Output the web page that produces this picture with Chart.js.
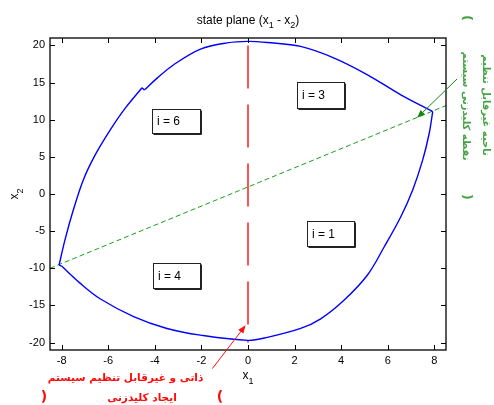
<!DOCTYPE html>
<html><head><meta charset="utf-8">
<script src="https://cdn.jsdelivr.net/npm/chart.js@4"></script>
<style>html,body{margin:0;padding:0;background:#fff;}canvas{display:block;}</style>
</head><body>
<canvas id="c" width="494" height="405"></canvas>
<script>
// ---- data ----
// trajectory, split at its corners so the smooth arcs keep sharp vertices
const upperLeftX  = [-8.11,-7.86,-7.5,-7.07,-6.56,-5.92,-5.27,-4.55];
const upperLeftY  = [-9.57,-6.2,-2.16,1.9,5.26,8.6,11.56,14.3];
const upperRightX = [-4.45,-3.9,-3.19,-2.04,-0.9,0,0.83,2.26,3.7,5.13,6.56,7.93];
const upperRightY = [14.0,15.6,17.4,19.5,20.35,20.55,20.4,19.87,18.3,16.05,13.35,11.1];
const lowerX = [7.93,7.78,7.5,7.07,6.56,5.85,5.13,4.12,3.12,2.26,0.83,0,-2.04,-3.48,-4.91,-6.35,-7.21,-8.0];
const lowerY = [11.1,8.18,4.59,0.54,-3.06,-7.1,-10.9,-14.3,-16.8,-18.1,-19.3,-19.7,-19.0,-18.1,-16.5,-14.1,-12.0,-9.7];
const joinX = [-4.55,-4.45,null,-8.0,-8.11];
const joinY = [14.3,14.0,null,-9.7,-9.57];
const guideX = [-8.5, 8.5];
const guideY = [-10.0, 11.9];
const switchX = [0, 0];
const switchY = [20, -20];
const xTicks = [-8,-6,-4,-2,0,2,4,6,8];
const yTicks = [-20,-15,-10,-5,0,5,10,15,20];
const regionLabels = ['i = 6','i = 3','i = 1','i = 4'];
const titleParts = [['state plane (x',0],['1',1],[' - x',0],['2',1],[')',0]];
const xLabelParts = [['x',0],['1',1]];
const yLabelParts = [['x',0],['2',1]];
const redLine1 = 'ذاتی و غیرقابل تنظیم سیستم';
const redLine2 = 'ایجاد کلیدزنی';
const greenLine1 = 'ناحیه غیرقابل تنظیم';
const greenLine2 = 'نقطه کلیدزنی سیستم';

// ---- annotation placement (data coordinates) ----
const boxCorners = [[-4.11,11.44,-2.06,8.17],[2.12,15.04,4.13,11.62],[2.55,-3.59,4.55,-6.96],[-4.09,-9.33,-2.06,-12.61]];
const greenArrow = {from:[8.98,15.5], to:[7.26,10.25]};
const redArrow = {from:[-1.53,-23.5], to:[-0.1,-17.67]};

const FONT = '"Liberation Sans", Arial, sans-serif';
const AFONT = '"DejaVu Sans", sans-serif';

function pts(xs, ys){ return xs.map((x,i)=>({x:x, y:ys[i]})); }

function drawParts(ctx, parts, cx, baseY, size, subSize, subDy){
  let w = 0;
  parts.forEach(p=>{ ctx.font = (p[1]?subSize:size)+'px '+FONT; w += ctx.measureText(p[0]).width; });
  let x = cx - w/2;
  ctx.textAlign = 'left'; ctx.textBaseline = 'alphabetic';
  parts.forEach(p=>{
    ctx.font = (p[1]?subSize:size)+'px '+FONT;
    ctx.fillText(p[0], x, baseY + (p[1]?subDy:0));
    x += ctx.measureText(p[0]).width;
  });
}

function arrow(ctx, x1,y1,x2,y2,color){
  ctx.strokeStyle = color; ctx.fillStyle = color; ctx.lineWidth = 1; ctx.setLineDash([]);
  const ang = Math.atan2(y2-y1, x2-x1), L = 8, W = 3.2;
  ctx.beginPath(); ctx.moveTo(x1,y1); ctx.lineTo(x2 - Math.cos(ang)*L*0.8, y2 - Math.sin(ang)*L*0.8); ctx.stroke();
  ctx.beginPath();
  ctx.moveTo(x2,y2);
  ctx.lineTo(x2 - L*Math.cos(ang) + W*Math.sin(ang), y2 - L*Math.sin(ang) - W*Math.cos(ang));
  ctx.lineTo(x2 - L*Math.cos(ang) - W*Math.sin(ang), y2 - L*Math.sin(ang) + W*Math.cos(ang));
  ctx.closePath(); ctx.fill();
}

const framePlugin = {
  id:'frame',
  afterDraw(chart){
    const {ctx, chartArea:a, scales:{x, y}} = chart;
    ctx.save();
    ctx.strokeStyle = '#000'; ctx.lineWidth = 1.3; ctx.setLineDash([]);
    ctx.strokeRect(a.left, a.top, a.right - a.left, a.bottom - a.top);
    ctx.lineWidth = 1;
    ctx.beginPath();
    xTicks.forEach(v=>{
      const px = Math.round(x.getPixelForValue(v)) + 0.5;
      ctx.moveTo(px, a.bottom); ctx.lineTo(px, a.bottom - 5);
      ctx.moveTo(px, a.top); ctx.lineTo(px, a.top + 5);
    });
    yTicks.forEach(v=>{
      const py = Math.round(y.getPixelForValue(v)) + 0.5;
      ctx.moveTo(a.left, py); ctx.lineTo(a.left + 5, py);
      ctx.moveTo(a.right, py); ctx.lineTo(a.right - 5, py);
    });
    ctx.stroke();

    ctx.fillStyle = '#000';
    drawParts(ctx, titleParts, (a.left + a.right)/2, 24, 12, 9, 4);
    drawParts(ctx, xLabelParts, (a.left + a.right)/2, 378.5, 12, 9, 5);
    ctx.save();
    ctx.translate(17.5, (a.top + a.bottom)/2);
    ctx.rotate(-Math.PI/2);
    drawParts(ctx, yLabelParts, 0, 0, 12, 9, 5);
    ctx.restore();

    boxCorners.forEach((b,i)=>{
      const x1 = Math.round(x.getPixelForValue(b[0]))+0.5, y1 = Math.round(y.getPixelForValue(b[1]))+0.5;
      const x2 = Math.round(x.getPixelForValue(b[2]))+0.5, y2 = Math.round(y.getPixelForValue(b[3]))+0.5;
      ctx.fillStyle = '#fff';
      ctx.fillRect(x1, y1, x2-x1, y2-y1);
      ctx.strokeStyle = '#222'; ctx.lineWidth = 1;
      ctx.strokeRect(x1, y1, x2-x1, y2-y1);
      ctx.beginPath(); ctx.moveTo(x2+1, y1+1); ctx.lineTo(x2+1, y2+1); ctx.lineTo(x1+1, y2+1); ctx.stroke();
      ctx.fillStyle = '#000';
      ctx.font = '12px '+FONT; ctx.textAlign = 'left'; ctx.textBaseline = 'middle';
      ctx.fillText(regionLabels[i], x1 + 4.5, (y1+y2)/2 + 0.5);
    });

    arrow(ctx, x.getPixelForValue(greenArrow.from[0]), y.getPixelForValue(greenArrow.from[1]),
               x.getPixelForValue(greenArrow.to[0]), y.getPixelForValue(greenArrow.to[1]), '#108a10');
    arrow(ctx, x.getPixelForValue(redArrow.from[0]), y.getPixelForValue(redArrow.from[1]),
               x.getPixelForValue(redArrow.to[0]), y.getPixelForValue(redArrow.to[1]), '#ff1010');

    ctx.fillStyle = '#ff0a0a';
    ctx.textBaseline = 'middle'; ctx.textAlign = 'center';
    ctx.direction = 'rtl';
    ctx.font = 'bold 12px '+AFONT;
    let m = ctx.measureText(redLine1).width;
    let fs = Math.max(9, Math.min(15, 12*155/m));
    ctx.font = 'bold '+fs.toFixed(1)+'px '+AFONT;
    ctx.fillText(redLine1, 125.5, 378);
    ctx.fillText(redLine2, 142, 398);
    ctx.direction = 'ltr';
    ctx.font = 'bold 14px '+AFONT;
    ctx.fillText(')', 44, 397);
    ctx.fillText('(', 220, 397);

    ctx.fillStyle = 'rgba(20,140,20,0.8)';
    ctx.save();
    ctx.translate(466, 108);
    ctx.rotate(Math.PI/2);
    ctx.direction = 'ltr';
    ctx.font = 'bold 13px '+AFONT; ctx.textAlign = 'center'; ctx.textBaseline = 'middle';
    ctx.fillText('(', -90, 0);
    ctx.fillText(')', 89, 0);
    ctx.direction = 'rtl';
    ctx.font = 'bold 10px '+AFONT;
    ctx.fillText(greenLine2, -2, 0);
    ctx.restore();
    ctx.save();
    ctx.translate(486, 105);
    ctx.rotate(Math.PI/2);
    ctx.direction = 'rtl';
    ctx.font = 'bold 10px '+AFONT; ctx.textAlign = 'center'; ctx.textBaseline = 'middle';
    ctx.fillText(greenLine1, 0, 0);
    ctx.restore();

    ctx.restore();
  }
};

const curveStyle = {showLine:true, borderColor:'#0000ff', borderWidth:1.4, pointRadius:0, tension:0.35, fill:false, spanGaps:false};

new Chart(document.getElementById('c').getContext('2d'), {
  type:'scatter',
  data:{datasets:[
    Object.assign({data:pts(upperLeftX, upperLeftY)}, curveStyle),
    Object.assign({data:pts(upperRightX, upperRightY)}, curveStyle),
    Object.assign({data:pts(lowerX, lowerY)}, curveStyle),
    Object.assign({data:pts(joinX, joinY)}, curveStyle, {tension:0}),
    {data:pts(guideX, guideY), showLine:true, borderColor:'#1c9c1c', borderWidth:1, borderDash:[5,3], pointRadius:0, fill:false},
    {data:pts(switchX, switchY), showLine:true, borderColor:'#ff2a2a', borderWidth:1.6, borderDash:[43,16], pointRadius:0, fill:false}
  ]},
  options:{
    responsive:false, animation:false, devicePixelRatio:1,
    layout:{padding:{left:0, top:38, right:48, bottom:0}},
    plugins:{legend:{display:false}, tooltip:{enabled:false}, title:{display:false}},
    scales:{
      x:{type:'linear', min:-8.5, max:8.5,
         afterBuildTicks:s=>{ s.ticks = xTicks.map(v=>({value:v})); },
         afterFit:s=>{ s.height = 55; },
         grid:{display:false, drawTicks:false}, border:{display:false},
         ticks:{padding:4, color:'#000', font:{family:FONT, size:11}, maxRotation:0, autoSkip:false}},
      y:{type:'linear', min:-21, max:21,
         afterBuildTicks:s=>{ s.ticks = yTicks.map(v=>({value:v})); },
         afterFit:s=>{ s.width = 50; },
         grid:{display:false, drawTicks:false}, border:{display:false},
         ticks:{padding:5, color:'#000', font:{family:FONT, size:11}, autoSkip:false}}
    }
  },
  plugins:[framePlugin]
});
</script>
</body></html>
